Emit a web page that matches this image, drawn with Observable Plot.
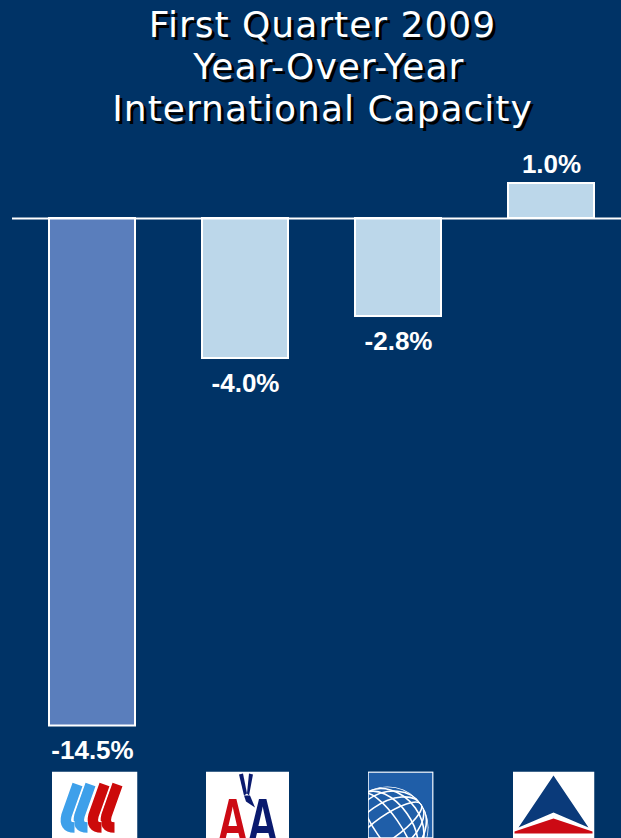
<!DOCTYPE html>
<html>
<head>
<meta charset="utf-8">
<script src="https://cdn.jsdelivr.net/npm/d3@7"></script>
<script src="https://cdn.jsdelivr.net/npm/@observablehq/plot@0.6"></script>
<style>
  html, body { margin: 0; padding: 0; background: #003366; overflow: hidden; }
  #title {
    height: 145px; box-sizing: border-box; padding-top: 4px;
    position: relative; left: 12px;
    text-align: center; color: #fff;
    font-family: "DejaVu Sans", sans-serif; font-size: 36px; line-height: 42px;
    letter-spacing: 1px;
    text-shadow: 3px 3px 0 #000;
    white-space: pre;
  }
  #chart svg { display: block; }
</style>
</head>
<body>
<div id="title">First Quarter 2009
 Year-Over-Year
International Capacity</div>
<div id="chart"></div>
<script>
const carriers = ["United", "American", "Continental", "Delta"];
const capacityChange = [-14.5, -4.0, -2.8, 1.0];
const valueLabels = ["-14.5%", "-4.0%", "-2.8%", "1.0%"];

const data = carriers.map((c, i) => ({carrier: c, value: capacityChange[i], label: valueLabels[i]}));

const barFill = {United: "#5a7ebc", American: "#bcd7ea", Continental: "#bcd7ea", Delta: "#bcd7ea"};

// Simple stand-in logos (decorative)
const stripe = (tx, color) => {
  const p = `M${tx},13 L${tx - 11},44 Q${tx - 14},56 ${tx - 3},56`;
  return `<path d='${p}' fill='none' stroke='#fff' stroke-width='13'/>` +
         `<path d='${p}' fill='none' stroke='${color}' stroke-width='10.5'/>`;
};
const logoSvg = {
  United: {w: 86, h: 67, svg: `<svg xmlns='http://www.w3.org/2000/svg' width='86' height='67' viewBox='0 0 86 67'>
    <rect width='86' height='67' fill='#fff'/>
    ${stripe(66, "#cc0a0a")}${stripe(53, "#cc0a0a")}${stripe(39, "#3ea0ea")}${stripe(26, "#3ea0ea")}
  </svg>`},
  American: {w: 83, h: 67, svg: `<svg xmlns='http://www.w3.org/2000/svg' width='83' height='67' viewBox='0 0 83 67'>
    <rect width='83' height='67' fill='#fff'/>
    <g font-family='Liberation Sans, Arial' font-weight='bold' font-size='64'>
      <text transform='translate(11,72) scale(0.68,1)' fill='#cc0a14'>A</text>
      <text transform='translate(41,72) scale(0.68,1)' fill='#0a1a6e'>A</text>
    </g>
    <path d='M33,3 L37,2 L41,22 L38,24 Z' fill='#0a1a6e'/>
    <path d='M47,3 L43,2 L41,22 L43,24 Z' fill='#0a1a6e'/>
    <path d='M38,24 L44,24 L49,36 L40,30 Z' fill='#0a1a6e'/>
  </svg>`},
  Continental: {w: 66, h: 67, svg: `<svg xmlns='http://www.w3.org/2000/svg' width='66' height='67' viewBox='0 0 66 67'>
    <rect width='66' height='67' fill='#1f5ea8'/>
    <rect x='0.5' y='0.5' width='65' height='66' fill='none' stroke='#fff' stroke-width='1.5'/>
    <clipPath id='c'><circle cx='20' cy='56' r='41'/></clipPath>
    <g clip-path='url(#c)' fill='none' stroke='#fff' stroke-width='1.6'>
      <circle cx='20' cy='56' r='41'/>
      <ellipse cx='20' cy='56' rx='12' ry='41' transform='rotate(-35 20 56)'/>
      <ellipse cx='20' cy='56' rx='24' ry='41' transform='rotate(-35 20 56)'/>
      <ellipse cx='20' cy='56' rx='34' ry='41' transform='rotate(-35 20 56)'/>
      <ellipse cx='20' cy='56' rx='41' ry='12' transform='rotate(-35 20 56)'/>
      <ellipse cx='20' cy='56' rx='41' ry='24' transform='rotate(-35 20 56)'/>
      <ellipse cx='20' cy='56' rx='41' ry='34' transform='rotate(-35 20 56)'/>
    </g>
  </svg>`},
  Delta: {w: 82, h: 67, svg: `<svg xmlns='http://www.w3.org/2000/svg' width='82' height='67' viewBox='0 0 82 67'>
    <rect width='82' height='67' fill='#fff'/>
    <path d='M41,4 L76,56 L41,41 L6,56 Z' fill='#0a3a7a'/>
    <path d='M41,47 L80,60 L80,62 L2,62 L2,60 Z' fill='#cc0a14'/>
  </svg>`}
};
const logoSrc = d => "data:image/svg+xml;utf8," + encodeURIComponent(logoSvg[d.carrier].svg);

const plot = Plot.plot({
  width: 621,
  height: 693,
  marginLeft: 12, marginRight: 0, marginTop: 0, marginBottom: 0,
  style: {background: "#003366", overflow: "visible"},
  x: {domain: carriers, range: [12, 631], paddingInner: 0.435, paddingOuter: 0.2273, axis: null},
  y: {domain: [-17.714, 2.086], range: [693, 0], axis: null},
  marks: [
    Plot.barY(data, {x: "carrier", y: "value", fill: d => barFill[d.carrier], stroke: "#fff", strokeWidth: 2}),
    Plot.ruleY([0], {stroke: "#fff", strokeWidth: 2}),
    Plot.text(data.filter(d => d.value >= 0), {x: "carrier", y: "value", text: "label", lineAnchor: "bottom", dy: -11,
      fill: "#fff", fontSize: 26, fontWeight: "bold", fontFamily: "Liberation Sans, Arial, sans-serif"}),
    Plot.text(data.filter(d => d.value < 0), {x: "carrier", y: "value", text: "label", lineAnchor: "bottom", dy: 33,
      fill: "#fff", fontSize: 26, fontWeight: "bold", fontFamily: "Liberation Sans, Arial, sans-serif"}),
    Plot.image(data, {x: "carrier", frameAnchor: "bottom", dy: -33.5, dx: 2,
      width: d => logoSvg[d.carrier].w, height: d => logoSvg[d.carrier].h, src: logoSrc})
  ]
});
document.getElementById("chart").appendChild(plot);
</script>
</body>
</html>
